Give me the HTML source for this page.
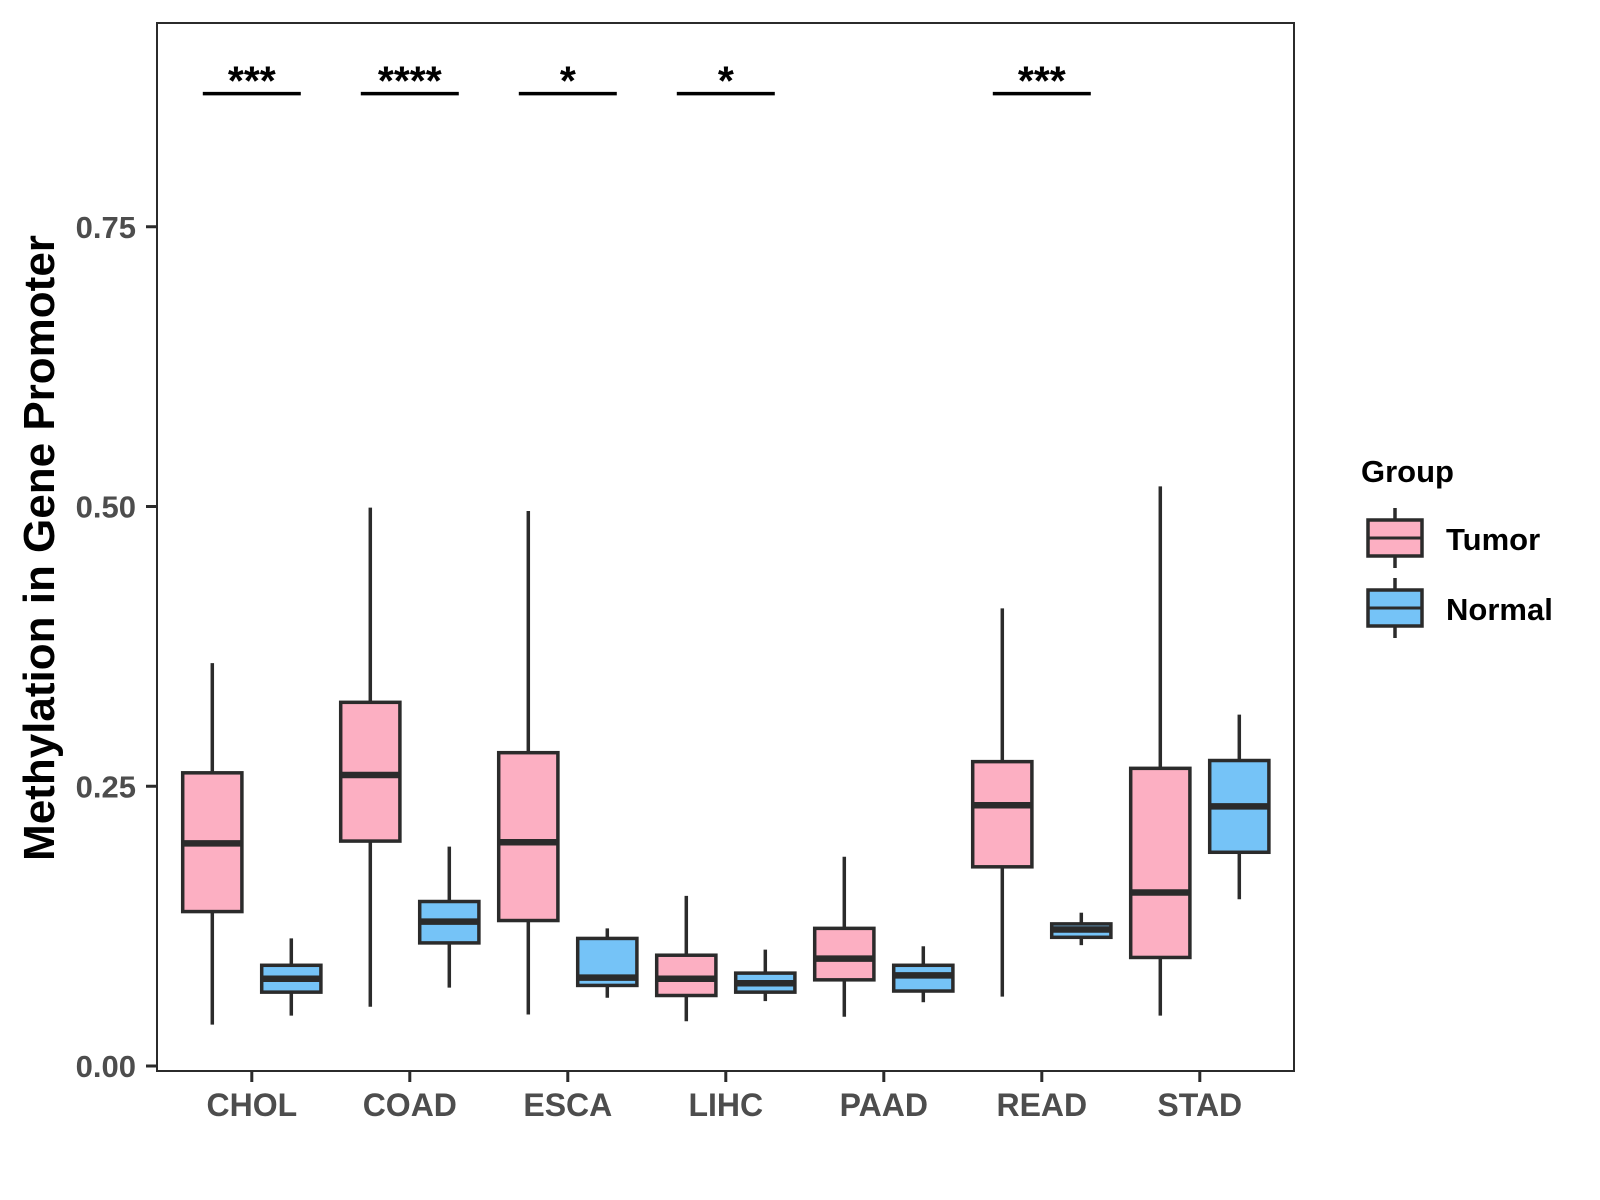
<!DOCTYPE html>
<html><head><meta charset="utf-8"><style>
html,body{margin:0;padding:0;background:#fff;width:1600px;height:1200px;overflow:hidden}
svg text{font-family:"Liberation Sans",Arial,sans-serif;font-weight:bold}
</style></head><body>
<svg id="chart" width="1600" height="1200" xmlns="http://www.w3.org/2000/svg">
<rect x="157" y="23" width="1137" height="1048" fill="#fff" stroke="#2b2b2b" stroke-width="2"/>
<g id="yaxis"></g>
<g id="xaxis"></g>
<g id="boxes"></g>
<g id="sig"></g>
<text x="0" y="0" transform="translate(54,548) rotate(-90)" text-anchor="middle" font-size="44" fill="#000">Methylation in Gene Promoter</text>
<g transform="translate(-7,0)">
<text x="1368" y="482" font-size="31" fill="#000">Group</text>
<g>
<line x1="1402" x2="1402" y1="508" y2="568" stroke="#2b2b2b" stroke-width="3.5"/>
<rect x="1375" y="520" width="54" height="36" fill="#FCAFC2" stroke="#2b2b2b" stroke-width="3.5"/>
<line x1="1375" x2="1429" y1="538" y2="538" stroke="#2b2b2b" stroke-width="3"/>
<text x="1453" y="550" font-size="31" fill="#000">Tumor</text>
</g>
<g>
<line x1="1402" x2="1402" y1="578" y2="638" stroke="#2b2b2b" stroke-width="3.5"/>
<rect x="1375" y="590" width="54" height="36" fill="#75C3F7" stroke="#2b2b2b" stroke-width="3.5"/>
<line x1="1375" x2="1429" y1="608" y2="608" stroke="#2b2b2b" stroke-width="3"/>
<text x="1453" y="620" font-size="31" fill="#000">Normal</text>
</g>
</g>
</svg>
<script>
const categories = ["CHOL","COAD","ESCA","LIHC","PAAD","READ","STAD"];
// [lower whisker, Q1, median, Q3, upper whisker]
const tumorStats = [
 [0.037,0.138,0.199,0.262,0.360],
 [0.053,0.201,0.260,0.325,0.499],
 [0.046,0.130,0.200,0.280,0.496],
 [0.040,0.063,0.078,0.099,0.152],
 [0.044,0.077,0.096,0.123,0.187],
 [0.062,0.178,0.233,0.272,0.409],
 [0.045,0.097,0.155,0.266,0.518]
];
const normalStats = [
 [0.045,0.066,0.078,0.090,0.114],
 [0.070,0.110,0.129,0.147,0.196],
 [0.061,0.072,0.079,0.114,0.123],
 [0.058,0.066,0.074,0.083,0.104],
 [0.057,0.067,0.081,0.090,0.107],
 [0.108,0.115,0.122,0.127,0.137],
 [0.149,0.191,0.232,0.273,0.314]
];
const sigLabels = ["***","****","*","*","","***",""];
const sigLevel = 0.869;
const yTicks = [0,0.25,0.5,0.75];
const yTickLabels = ["0.00","0.25","0.50","0.75"];

const NS="http://www.w3.org/2000/svg";
const y = v => 1066 - v*1119;
const x = i => 157 + (i+0.6)*158;
function mk(tag, attrs, parent){const e=document.createElementNS(NS,tag);for(const k in attrs)e.setAttribute(k,attrs[k]);parent.appendChild(e);return e;}
const yg=document.getElementById('yaxis'), xg=document.getElementById('xaxis'), bg=document.getElementById('boxes'), sg=document.getElementById('sig');
yTicks.forEach((t,i)=>{
  const l=mk('line',{x1:146,x2:157,y1:y(t),y2:y(t),stroke:'#2b2b2b','stroke-width':3},yg);
  
  
  const tx=mk('text',{x:136,y:y(t)+11,'text-anchor':'end','font-size':31,fill:'#4d4d4d'},yg);
  tx.textContent=yTickLabels[i];
  
  
});
categories.forEach((c,i)=>{
  const l=mk('line',{x1:x(i),x2:x(i),y1:1071,y2:1082,stroke:'#2b2b2b','stroke-width':3},xg);
  
  
  const tx=mk('text',{x:x(i),y:1116,'text-anchor':'middle','font-size':32,fill:'#4d4d4d'},xg);
  tx.textContent=c;
  
  
});
function drawBox(cx,s,fill,name){
  const g=mk('g',{},bg);
  
  
  const hw=29.6;
  mk('line',{x1:cx,x2:cx,y1:y(s[0]),y2:y(s[4]),stroke:'#2b2b2b','stroke-width':3.5},g);
  mk('rect',{x:cx-hw,y:y(s[3]),width:2*hw,height:y(s[1])-y(s[3]),fill:fill,stroke:'#2b2b2b','stroke-width':3.5},g);
  mk('line',{x1:cx-hw,x2:cx+hw,y1:y(s[2]),y2:y(s[2]),stroke:'#2b2b2b','stroke-width':6.5},g);
}
categories.forEach((c,i)=>{
  drawBox(x(i)-39.5,tumorStats[i],'#FCAFC2','box-'+c.toLowerCase()+'-tumor');
  drawBox(x(i)+39.5,normalStats[i],'#75C3F7','box-'+c.toLowerCase()+'-normal');
  if(sigLabels[i]){
    const l=mk('line',{x1:x(i)-49,x2:x(i)+49,y1:y(sigLevel),y2:y(sigLevel),stroke:'#000','stroke-width':3.5},sg);
    
    
    const t=mk('text',{x:x(i),y:y(sigLevel)+1,'text-anchor':'middle','font-size':41,fill:'#000'},sg);
    t.textContent=sigLabels[i];
    
    
  }
});
</script>
</body></html>
